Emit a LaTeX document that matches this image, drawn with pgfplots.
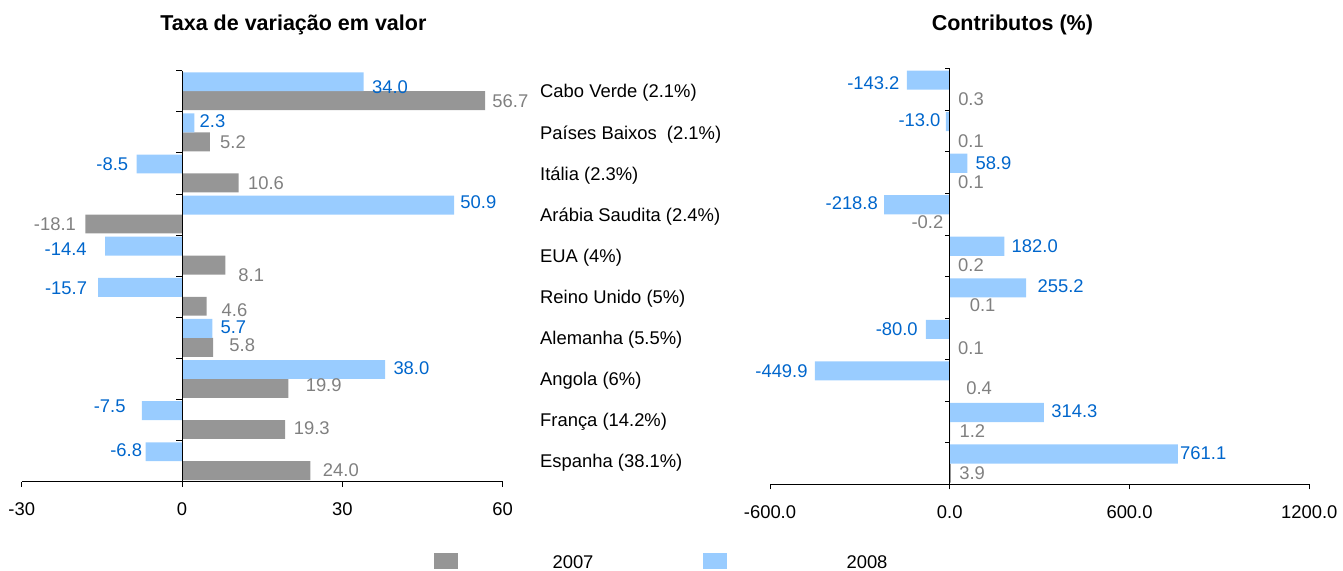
\documentclass[border=0pt]{standalone}
\usepackage{fontspec}
\setmainfont{Liberation Sans}
\usepackage{pgfplots}
\pgfplotsset{compat=1.18}
\usepackage{pgfplotstable}
\definecolor{bargrey}{HTML}{969696}
\definecolor{barblue}{HTML}{99CCFF}
\definecolor{lblblue}{HTML}{0066CC}
\definecolor{lblgrey}{HTML}{808080}

% values: v08 = 2008, v07 = 2007; dx/dy = label offsets (pt)
\pgfplotstableread{
idx v08 v07 dxa dya dxb dyb
0 34.0 56.7 4 -2.75 3.5 0
1 2.3 5.2 2.5 0.75 5 0
2 -8.5 10.6 -4 0 4.5 0
3 50.9 -18.1 3 1.5 -4.5 0
4 -14.4 8.1 -9 -1.5 6.35 -4.75
5 -15.7 4.6 -5.35 -0.5 7.35 -1.75
6 5.7 5.8 3.85 0.5 8 1.35
7 38.0 19.9 4 0.5 8.5 1.5
8 -7.5 19.3 -8 2.25 4.15 0.5
9 -6.8 24.0 -1.65 1 6.15 0.5
}\lefttab

\pgfplotstableread{
idx v08 v07 dxa dya dxb dyb
0 -143.2 0.3 -3.5 -1.5 4 0
1 -13.0 0.1 -2.5 1 4 0
2 58.9 0.1 3.85 0 4 0
3 -218.8 -0.2 -3 1 -3 0.75
4 182.0 0.2 3.5 0 4 0
5 255.2 0.1 5.5 1 9.8 1
6 -80.0 0.1 -3.85 0 4 0
7 -449.9 0.4 -3.5 0 8 0.75
8 314.3 1.2 3.5 0.5 4.5 0
9 761.1 3.9 1 0.5 4 0
}\righttab

\newcommand{\bodyfont}{\fontsize{9.2}{11}\selectfont}

\pgfplotsset{
  panel/.style={
    scale only axis, clip=false,
    ymin=-0.5, ymax=9.5, y dir=reverse,
    axis x line=bottom,
    axis line style={-, black, line width=0.5pt},
    tick align=outside, major tick length=2.5pt,
    tick style={black, line width=0.5pt},
    xticklabel style={inner sep=0pt, /pgf/number format/assume math mode=true},
    xticklabel shift=8pt,
    xbar, bar width=0.46, point meta=x,
    nodes near coords={\pgfmathprintnumber[fixed,fixed zerofill,precision=1,1000 sep={},assume math mode=true]{\pgfplotspointmeta}},
    nodes near coords align=horizontal,
    font=\bodyfont,
  },
  greyser/.style={fill=bargrey, draw=none, bar shift=0.23,
    visualization depends on={\thisrow{dxb} \as \dx},
    visualization depends on={\thisrow{dyb} \as \dy},
    every node near coord/.append style={text=lblgrey, inner sep=0pt, text depth=0pt, xshift=\dx pt, yshift=\dy pt}},
  blueser/.style={fill=barblue, draw=none, bar shift=-0.23,
    visualization depends on={\thisrow{dxa} \as \dx},
    visualization depends on={\thisrow{dya} \as \dy},
    every node near coord/.append style={text=lblblue, inner sep=0pt, text depth=0pt, xshift=\dx pt, yshift=\dy pt}},
}

\begin{document}
\begin{tikzpicture}
\path[use as bounding box] (0,0) rectangle (671.5pt,285pt);

% left panel
\begin{axis}[panel,
  at={(10.85pt,44.15pt)}, anchor=south west,
  width=240.5pt, height=205.5pt,
  xmin=-30, xmax=60, xtick={-30,0,30,60},
  axis y line=right, y axis line style={draw=none},
  ytick={0,...,9}, ytick style={draw=none},
  yticklabels={{Cabo Verde (2.1\%)},{Países Baixos~ (2.1\%)},{Itália (2.3\%)},{Arábia Saudita (2.4\%)},{EUA (4\%)},{Reino Unido (5\%)},{Alemanha (5.5\%)},{Angola (6\%)},{França (14.2\%)},{Espanha (38.1\%)}},
  yticklabel style={anchor=west, inner sep=0pt, text depth=0pt, xshift=17.3pt},
]
\addplot[greyser] table[x=v07, y=idx] {\lefttab};
\addplot[blueser] table[x=v08, y=idx] {\lefttab};
\draw[black, line width=0.5pt] (axis cs:0,-0.5) -- (axis cs:0,9.5);
\pgfplotsinvokeforeach{-0.5,0.5,...,9.5}{\draw[black, line width=0.5pt] (axis cs:0,#1) -- ++(-3pt,0pt);}
\end{axis}

% right panel
\begin{axis}[panel,
  at={(385pt,42.85pt)}, anchor=south west,
  width=269.65pt, height=207.7pt,
  xmin=-600, xmax=1200, xtick={-600,0,600,1200},
  xticklabel={\pgfmathprintnumber[fixed,fixed zerofill,precision=1,1000 sep={},assume math mode=true]{\tick}},
  axis y line=none,
]
\addplot[greyser] table[x=v07, y=idx] {\righttab};
\addplot[blueser] table[x=v08, y=idx] {\righttab};
\draw[black, line width=0.5pt] (axis cs:0,-0.5) -- (axis cs:0,9.5);
\pgfplotsinvokeforeach{-0.5,0.5,...,9.5}{\draw[black, line width=0.5pt] (axis cs:0,#1) -- ++(-2.5pt,0pt);}
\end{axis}

% titles
\node[anchor=base, font=\fontsize{10.75}{13}\selectfont\bfseries, inner sep=0pt] at (146.7pt,270pt) {Taxa de variação em valor};
\node[anchor=base, font=\fontsize{10.75}{13}\selectfont\bfseries, inner sep=0pt] at (506.2pt,270pt) {Contributos (\%)};

% legend
\fill[bargrey] (217pt,0.5pt) rectangle (229pt,8.5pt);
\node[anchor=base, font=\bodyfont, inner sep=0pt] at (286.5pt,0.6pt) {2007};
\fill[barblue] (351.5pt,0.5pt) rectangle (363.5pt,8.5pt);
\node[anchor=base, font=\bodyfont, inner sep=0pt] at (433.5pt,0.6pt) {2008};
\end{tikzpicture}
\end{document}
